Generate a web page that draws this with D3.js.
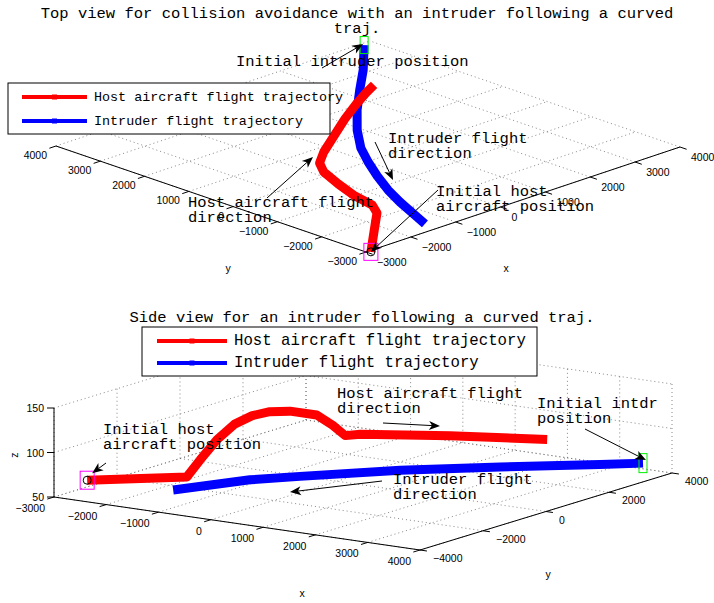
<!DOCTYPE html>
<html>
<head>
<meta charset="utf-8">
<script src="https://cdn.jsdelivr.net/npm/d3@7"></script>
<style>
  body { margin: 0; background: #fff; }
  svg { display: block; }
</style>
</head>
<body>
<svg id="chart" width="714" height="603"></svg>
<script>
// ---- data: top view (x, y) ----
const topHostX = [-2940, -2250, -1590, -1380, -1280, -1070, -840, -590, -180, 460, 1150, 1770, 2240, 2600];
const topHostY = [-3050, -2420, -1820, -1500, -1010, -420, 140, 490, 810, 1230, 1680, 2050, 2310, 2490];
const topIntrX = [3800, 2970, 2270, 1580, 920, 370, -10, -370, -710, -970, -1190, -1410];
const topIntrY = [3930, 3110, 2480, 1840, 1170, 530, -20, -590, -1180, -1710, -2220, -2720];
const topXTicks = [-3000, -2000, -1000, 0, 1000, 2000, 3000, 4000];
const topYTicks = [-3000, -2000, -1000, 0, 1000, 2000, 3000, 4000];

// ---- data: side view (x, y, z) ----
const sideHostX = [-2980, -1790, -1630, -1430, -1220, -1010, -800, -560, -240, -50, 100, 280, 1350, 2510];
const sideHostY = [-2980, -1790, -1630, -1430, -1220, -1010, -800, -560, -240, -50, 100, 280, 1350, 2510];
const sideHostZ = [58, 59, 78, 100, 117, 126, 130, 130, 125, 113, 101, 102, 98, 91];
const sideIntrX = [3620, 3160, 2080, 1000, -80, -620, -1450];
const sideIntrY = [3710, 3110, 1730, 350, -1040, -1730, -2790];
const sideIntrZ = [61, 62, 65, 67, 66, 65, 58];
const sideXTicks = [-3000, -2000, -1000, 0, 1000, 2000, 3000, 4000];
const sideYTicks = [-4000, -2000, 0, 2000, 4000];
const sideZTicks = [50, 100, 150];

const legendLabels = ['Host aircraft flight trajectory', 'Intruder flight trajectory'];
const seriesColors = ['#ff0000', '#0000ff'];

const mono = "'Liberation Mono', 'DejaVu Sans Mono', monospace";
const sans = "'Liberation Sans', Arial, sans-serif";

const svg = d3.select('#chart');
svg.append('rect').attr('width', 714).attr('height', 603).attr('fill', '#fff');

// oblique projection built from one linear scale per axis
function makeProj(o) {
  const fx = d3.scaleLinear().domain(o.xDom).range([0, 1]);
  const fy = d3.scaleLinear().domain(o.yDom).range([0, 1]);
  const fz = d3.scaleLinear().domain(o.zDom).range([0, 1]);
  return (x, y, z) => {
    const a = fx(x), b = fy(y), c = fz(z);
    return [o.origin[0] + a * o.vx[0] + b * o.vy[0] + c * o.vz[0],
            o.origin[1] + a * o.vx[1] + b * o.vy[1] + c * o.vz[1]];
  };
}

const line = d3.line();

function seg(g, p1, p2, cls) {
  return g.append('line')
    .attr('x1', p1[0]).attr('y1', p1[1])
    .attr('x2', p2[0]).attr('y2', p2[1]);
}

function gridLine(g, p1, p2) {
  seg(g, p1, p2)
    .attr('stroke', '#6a6a6a')
    .attr('stroke-width', 0.8)
    .attr('stroke-dasharray', '1,3');
}

function arrow(g, from, to) {
  const dx = to[0] - from[0], dy = to[1] - from[1];
  const len = Math.hypot(dx, dy), ux = dx / len, uy = dy / len;
  const L = 11, Wd = 4.5, N = 3;
  const bx = to[0] - ux * L, by = to[1] - uy * L;
  g.append('line')
    .attr('x1', from[0]).attr('y1', from[1])
    .attr('x2', bx + ux * N).attr('y2', by + uy * N)
    .attr('stroke', '#000').attr('stroke-width', 1);
  g.append('path')
    .attr('d', line([to, [bx - uy * Wd, by + ux * Wd], [bx + ux * N, by + uy * N], [bx + uy * Wd, by - ux * Wd]]) + 'Z')
    .attr('fill', '#000');
}

function textLines(g, x, y, lines, size) {
  lines.forEach((t, i) => {
    g.append('text')
      .attr('x', x).attr('y', y + i * 15)
      .attr('font-family', mono).attr('font-size', size)
      .attr('fill', '#000')
      .style('white-space', 'pre')
      .text(t);
  });
}

function legend(g, box, rows, size) {
  g.append('rect')
    .attr('x', box.x).attr('y', box.y).attr('width', box.w).attr('height', box.h)
    .attr('fill', '#fff').attr('stroke', '#000').attr('stroke-width', 1);
  legendLabels.forEach((lab, i) => {
    const cy = rows.y0 + i * rows.dy;
    g.append('line')
      .attr('x1', rows.x0).attr('x2', rows.x0 + rows.len)
      .attr('y1', cy).attr('y2', cy)
      .attr('stroke', seriesColors[i]).attr('stroke-width', 4);
    g.append('rect')
      .attr('x', rows.x0 + rows.len / 2 - 2.5).attr('y', cy - 2.5)
      .attr('width', 5).attr('height', 5)
      .attr('fill', seriesColors[i]);
    g.append('text')
      .attr('x', rows.x0 + rows.len + 7).attr('y', cy + 4)
      .attr('font-family', mono).attr('font-size', size)
      .style('white-space', 'pre')
      .text(lab);
  });
}

function tickLabel(g, p, txt, anchor) {
  g.append('text')
    .attr('x', p[0]).attr('y', p[1])
    .attr('text-anchor', anchor)
    .attr('font-family', sans).attr('font-size', 10.5)
    .text(String(txt).replace('-', '\u2212'));
}

function startMarks(g, p, boxW, boxH, boxColor, circle) {
  g.append('rect')
    .attr('x', p[0] - boxW / 2).attr('y', p[1] - boxH / 2)
    .attr('width', boxW).attr('height', boxH)
    .attr('fill', 'none').attr('stroke', boxColor).attr('stroke-width', 1);
  if (circle) {
    g.append('circle')
      .attr('cx', p[0]).attr('cy', p[1]).attr('r', 4)
      .attr('fill', 'none').attr('stroke', '#000').attr('stroke-width', 1);
  }
}

// ================= TOP VIEW =================
(function () {
  const g = svg.append('g');
  const P = makeProj({
    origin: [366, 252], vx: [314, -105], vy: [-310, -106], vz: [0, 0],
    xDom: [-3000, 4000], yDom: [-3000, 4000], zDom: [0, 1]
  });
  const z0 = 0;
  const x0 = topXTicks[0], x1 = topXTicks[topXTicks.length - 1];
  const y0 = topYTicks[0], y1 = topYTicks[topYTicks.length - 1];

  topXTicks.forEach(x => gridLine(g, P(x, y0, z0), P(x, y1, z0)));
  topYTicks.forEach(y => gridLine(g, P(x0, y, z0), P(x1, y, z0)));

  // axes
  seg(g, P(x0, y0, z0), P(x1, y0, z0)).attr('stroke', '#000');
  seg(g, P(x0, y0, z0), P(x0, y1, z0)).attr('stroke', '#000');
  topXTicks.forEach(x => {
    const p = P(x, y0, z0);
    seg(g, p, [p[0] + 7 * 0.946, p[1] + 7 * 0.324]).attr('stroke', '#000');
    tickLabel(g, [p[0] + 11, p[1] + 14], x, 'start');
  });
  topYTicks.forEach(y => {
    const p = P(x0, y, z0);
    seg(g, p, [p[0] - 7 * 0.948, p[1] + 7 * 0.317]).attr('stroke', '#000');
    tickLabel(g, [p[0] - 9, p[1] + 13], y, 'end');
  });
  g.append('text').attr('x', 228).attr('y', 272).attr('text-anchor', 'middle')
    .attr('font-family', sans).attr('font-size', 10.5).text('y');
  g.append('text').attr('x', 506).attr('y', 272).attr('text-anchor', 'middle')
    .attr('font-family', sans).attr('font-size', 10.5).text('x');

  // trajectories
  const intr = topIntrX.map((x, i) => P(x, topIntrY[i], z0));
  const host = topHostX.map((x, i) => P(x, topHostY[i], z0));
  g.append('path').attr('d', line(intr)).attr('fill', 'none')
    .attr('stroke', seriesColors[1]).attr('stroke-width', 9).attr('stroke-linejoin', 'round');
  g.append('path').attr('d', line(host)).attr('fill', 'none')
    .attr('stroke', seriesColors[0]).attr('stroke-width', 9).attr('stroke-linejoin', 'round');

  startMarks(g, host[0], 14, 17, '#ff00ff', true);
  startMarks(g, intr[0], 8, 17, '#00ee00', false);

  // title
  textLines(g, 357, 18, ['Top view for collision avoidance with an intruder following a curved', 'traj.'], 15.5);
  g.selectAll('text').filter(function () { return +this.getAttribute('y') < 40; }).attr('text-anchor', 'middle');

  legend(g, { x: 8, y: 83, w: 322, h: 51 }, { x0: 22, len: 65, y0: 97, dy: 24 }, 13.4);

  // annotations
  textLines(g, 236, 66, ['Initial intruder position'], 15.5);
  arrow(g, [322, 68], [intr[0][0] - 1, intr[0][1] - 1]);
  textLines(g, 388, 143, ['Intruder flight', 'direction'], 15.5);
  arrow(g, [375, 142], [393, 180]);
  textLines(g, 188, 207, ['Host aircraft flight', 'direction'], 15.5);
  arrow(g, [267, 198], [313, 157]);
  textLines(g, 436, 196, ['Initial host', 'aircraft position'], 15.5);
  arrow(g, [438, 190], host[0]);
})();

// ================= SIDE VIEW =================
(function () {
  const g = svg.append('g');
  const P = makeProj({
    origin: [54, 497], vx: [366, 53], vy: [252, -77], vz: [0, -89],
    xDom: [-3000, 4000], yDom: [-4000, 4000], zDom: [50, 150]
  });
  const x0 = sideXTicks[0], x1 = sideXTicks[sideXTicks.length - 1];
  const y0 = sideYTicks[0], y1 = sideYTicks[sideYTicks.length - 1];
  const z0 = sideZTicks[0], z1 = sideZTicks[sideZTicks.length - 1];

  // floor grid
  sideXTicks.forEach(x => gridLine(g, P(x, y0, z0), P(x, y1, z0)));
  sideYTicks.forEach(y => gridLine(g, P(x0, y, z0), P(x1, y, z0)));
  // back wall x = x0
  sideYTicks.forEach(y => gridLine(g, P(x0, y, z0), P(x0, y, z1)));
  sideZTicks.forEach(z => gridLine(g, P(x0, y0, z), P(x0, y1, z)));
  // back wall y = y1
  sideXTicks.forEach(x => gridLine(g, P(x, y1, z0), P(x, y1, z1)));
  sideZTicks.forEach(z => gridLine(g, P(x0, y1, z), P(x1, y1, z)));

  // axes
  seg(g, P(x0, y0, z0), P(x1, y0, z0)).attr('stroke', '#000');
  seg(g, P(x1, y0, z0), P(x1, y1, z0)).attr('stroke', '#000');
  seg(g, P(x0, y0, z0), P(x0, y0, z1)).attr('stroke', '#000');
  sideXTicks.forEach(x => {
    const p = P(x, y0, z0);
    seg(g, p, [p[0] - 7 * 0.956, p[1] + 7 * 0.292]).attr('stroke', '#000');
    tickLabel(g, [p[0] - 9, p[1] + 15], x, 'end');
  });
  sideYTicks.forEach(y => {
    const p = P(x1, y, z0);
    seg(g, p, [p[0] + 7 * 0.99, p[1] + 7 * 0.143]).attr('stroke', '#000');
    tickLabel(g, [p[0] + 13, p[1] + 12], y, 'start');
  });
  sideZTicks.forEach(z => {
    const p = P(x0, y0, z);
    seg(g, p, [p[0] - 7, p[1]]).attr('stroke', '#000');
    tickLabel(g, [p[0] - 10, p[1] + 4], z, 'end');
  });
  g.append('text').attr('x', 302).attr('y', 597).attr('text-anchor', 'middle')
    .attr('font-family', sans).attr('font-size', 10.5).text('x');
  g.append('text').attr('x', 548).attr('y', 578).attr('text-anchor', 'middle')
    .attr('font-family', sans).attr('font-size', 10.5).text('y');
  g.append('text').attr('transform', 'translate(18,455) rotate(-90)').attr('text-anchor', 'middle')
    .attr('font-family', sans).attr('font-size', 10.5).text('z');

  // trajectories
  const host = sideHostX.map((x, i) => P(x, sideHostY[i], sideHostZ[i]));
  const intr = sideIntrX.map((x, i) => P(x, sideIntrY[i], sideIntrZ[i]));
  g.append('path').attr('d', line(intr)).attr('fill', 'none')
    .attr('stroke', seriesColors[1]).attr('stroke-width', 9).attr('stroke-linejoin', 'round');
  g.append('path').attr('d', line(host)).attr('fill', 'none')
    .attr('stroke', seriesColors[0]).attr('stroke-width', 9).attr('stroke-linejoin', 'round');

  startMarks(g, host[0], 14, 18, '#ff00ff', true);
  startMarks(g, intr[0], 8, 19, '#00ee00', false);

  // title
  g.append('text').attr('x', 362).attr('y', 322).attr('text-anchor', 'middle')
    .attr('font-family', mono).attr('font-size', 15.5).style('white-space', 'pre')
    .text('Side view for an intruder following a curved traj.');

  legend(g, { x: 142, y: 327, w: 395, h: 49 }, { x0: 157, len: 70, y0: 341, dy: 22 }, 15.7);

  // annotations
  textLines(g, 103, 434, ['Initial host', 'aircraft position'], 15.5);
  arrow(g, [106, 463], [host[0][0] + 5, host[0][1] - 7]);
  textLines(g, 337, 398, ['Host aircraft flight', 'direction'], 15.5);
  arrow(g, [383, 423], [440, 426]);
  textLines(g, 537, 408, ['Initial intdr', 'position'], 15.5);
  arrow(g, [585, 429], [intr[0][0] + 3, intr[0][1] - 3]);
  textLines(g, 393, 484, ['Intruder flight', 'direction'], 15.5);
  arrow(g, [382, 481], [290, 492]);
})();
</script>
</body>
</html>
